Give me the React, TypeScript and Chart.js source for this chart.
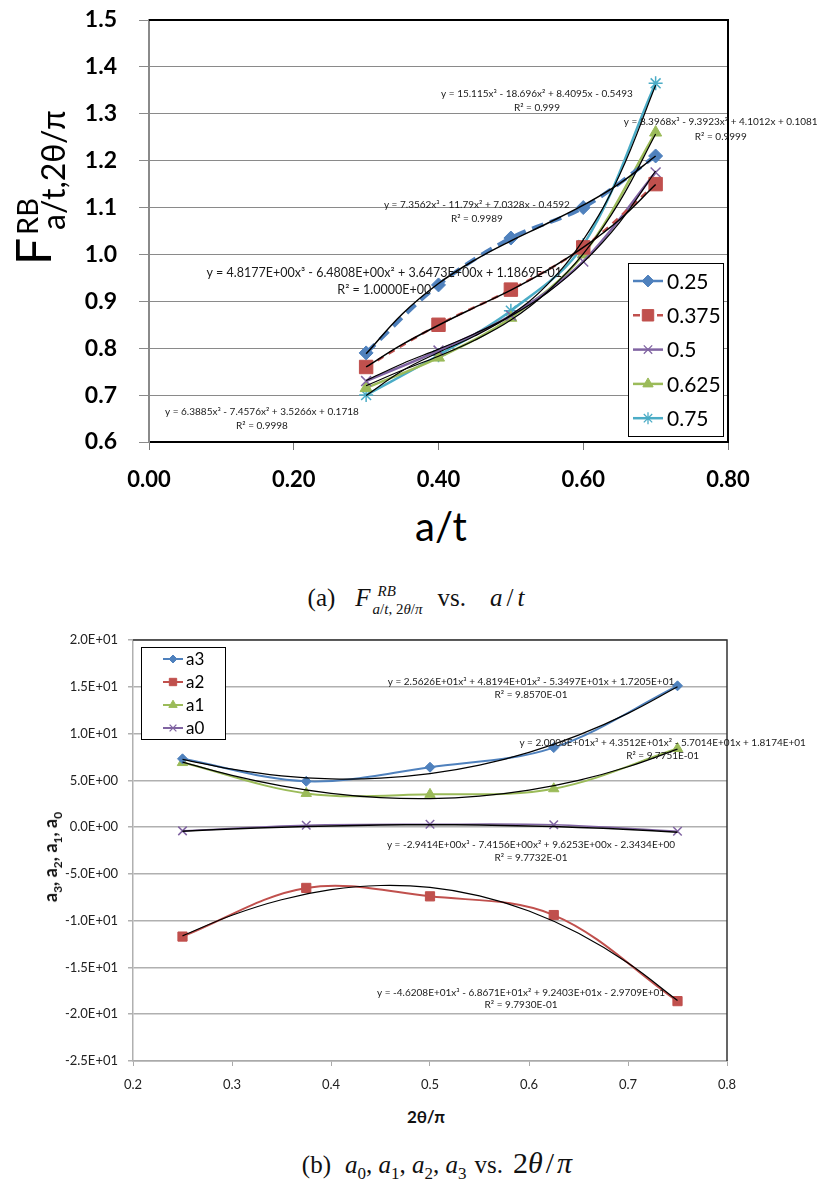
import React, { useEffect, useRef } from 'react';
import { Chart, registerables } from 'chart.js';

Chart.register(...registerables);

const FONT = 'Lato, "Open Sans", "DejaVu Sans", sans-serif';
const SERIF = '"Liberation Serif", "DejaVu Serif", serif';

// ---------------- chart (a) ----------------
const atValues = [0.3, 0.4, 0.5, 0.6, 0.7];
const seriesA025 = [0.79, 0.935, 1.035, 1.1, 1.21];
const seriesA0375 = [0.76, 0.85, 0.925, 1.015, 1.15];
const seriesA05 = [0.73, 0.795, 0.87, 0.985, 1.175];
const seriesA0625 = [0.715, 0.78, 0.865, 1.0, 1.26];
const seriesA075 = [0.7, 0.785, 0.88, 1.02, 1.365];

// trendline values
const trendAt = [0.3, 0.35, 0.4, 0.45, 0.5, 0.55, 0.6, 0.65, 0.7];
const trendA025 = [0.788, 0.873, 0.938, 0.988, 1.029, 1.066, 1.105, 1.151, 1.21];
const trendA0375 = [0.76, 0.808, 0.849, 0.887, 0.924, 0.966, 1.015, 1.074, 1.149];
const trendA05 = [0.731, 0.767, 0.798, 0.831, 0.869, 0.918, 0.983, 1.068, 1.178];
const trendA0625 = [0.72, 0.753, 0.783, 0.817, 0.86, 0.92, 1.001, 1.112, 1.257];
const trendA075 = [0.699, 0.752, 0.791, 0.826, 0.871, 0.935, 1.031, 1.169, 1.361];

const legendA = ['0.25', '0.375', '0.5', '0.625', '0.75'];

// ---------------- chart (b) ----------------
const thetaValues = [0.25, 0.375, 0.5, 0.625, 0.75];
const a3Values = [7.3, 4.9, 6.4, 8.5, 15.1];
const a2Values = [-11.7, -6.5, -7.4, -9.4, -18.6];
const a1Values = [6.9, 3.6, 3.5, 4.1, 8.4];
const a0Values = [-0.4, 0.2, 0.3, 0.25, -0.45];

const trendTheta = [0.25, 0.3, 0.35, 0.4, 0.45, 0.5, 0.55, 0.6, 0.65, 0.7, 0.75];
const trendA3 = [7.24, 6.19, 5.48, 5.16, 5.23, 5.71, 6.62, 7.99, 9.83, 12.16, 15.0];
const trendA2 = [-11.62, -9.42, -7.76, -6.69, -6.24, -6.45, -7.35, -8.97, -11.35, -14.53, -18.53];
const trendA1 = [6.95, 5.53, 4.41, 3.61, 3.15, 3.05, 3.31, 3.95, 4.99, 6.45, 8.33];
const trendA0 = [-0.45, -0.2, -0.01, 0.13, 0.22, 0.25, 0.22, 0.13, -0.03, -0.25, -0.54];

const legendB = ['a3', 'a2', 'a1', 'a0'];

const BLUE = '#4F81BD';
const RED = '#C0504D';
const PURPLE = '#8064A2';
const GREEN = '#9BBB59';
const CYAN = '#4BACC6';

const toXY = (xs: number[], ys: number[]) => xs.map((x, i) => ({ x, y: ys[i] }));

function fmtE(v: number) {
  if (Math.abs(v) < 1e-9) return '0.0E+00';
  const e = Math.floor(Math.log10(Math.abs(v)) + 1e-9);
  const m = v / Math.pow(10, e);
  return m.toFixed(1) + 'E' + (e < 0 ? '-' : '+') + String(Math.abs(e)).padStart(2, '0');
}

function drawMarker(ctx: CanvasRenderingContext2D, style: string, x: number, y: number, r: number, color: string, lw: number) {
  ctx.save();
  ctx.fillStyle = color;
  ctx.strokeStyle = color;
  ctx.lineWidth = lw;
  ctx.setLineDash([]);
  ctx.beginPath();
  const d = r * Math.SQRT1_2;
  if (style === 'rectRot') {
    ctx.moveTo(x, y - r); ctx.lineTo(x + r, y); ctx.lineTo(x, y + r); ctx.lineTo(x - r, y); ctx.closePath();
    ctx.fill(); ctx.stroke();
  } else if (style === 'rect') {
    ctx.rect(x - d, y - d, 2 * d, 2 * d); ctx.fill(); ctx.stroke();
  } else if (style === 'triangle') {
    ctx.moveTo(x, y - r); ctx.lineTo(x + r * 0.866, y + r * 0.5); ctx.lineTo(x - r * 0.866, y + r * 0.5); ctx.closePath();
    ctx.fill(); ctx.stroke();
  } else if (style === 'crossRot') {
    ctx.moveTo(x - d, y - d); ctx.lineTo(x + d, y + d); ctx.moveTo(x - d, y + d); ctx.lineTo(x + d, y - d); ctx.stroke();
  } else if (style === 'star') {
    ctx.moveTo(x - d, y - d); ctx.lineTo(x + d, y + d); ctx.moveTo(x - d, y + d); ctx.lineTo(x + d, y - d);
    ctx.moveTo(x - r, y); ctx.lineTo(x + r, y); ctx.moveTo(x, y - r); ctx.lineTo(x, y + r); ctx.stroke();
  }
  ctx.restore();
}

const framePlugin = {
  id: 'frame',
  afterDraw(chart: any, _a: any, o: any) {
    const { ctx, chartArea: a } = chart;
    ctx.save();
    ctx.strokeStyle = o.color;
    ctx.lineWidth = o.width;
    ctx.beginPath();
    ctx.moveTo(a.left, a.top);
    ctx.lineTo(a.right, a.top);
    ctx.lineTo(a.right, a.bottom);
    ctx.stroke();
    ctx.restore();
  },
};

const eqPlugin = {
  id: 'eqLabels',
  afterDraw(chart: any, _a: any, o: any) {
    const { ctx } = chart;
    const xs = chart.scales.x;
    const ys = chart.scales.y;
    ctx.save();
    ctx.fillStyle = '#1a1a1a';
    ctx.textAlign = 'center';
    ctx.textBaseline = 'middle';
    (o.items || []).forEach((it: any) => {
      ctx.font = `${it.size}px ${FONT}`;
      const px = xs.getPixelForValue(it.x);
      const py = ys.getPixelForValue(it.y);
      it.lines.forEach((t: string, i: number) => ctx.fillText(t, px, py + i * it.gap));
    });
    ctx.restore();
  },
};

const legendPlugin = {
  id: 'boxLegend',
  afterDraw(chart: any, _a: any, o: any) {
    const { ctx } = chart;
    ctx.save();
    ctx.fillStyle = '#fff';
    ctx.fillRect(o.left, o.top, o.width, o.height);
    ctx.strokeStyle = '#000';
    ctx.lineWidth = 1;
    ctx.strokeRect(o.left + 0.5, o.top + 0.5, o.width, o.height);
    const items = chart.data.datasets.filter((d: any) => d.inLegend);
    items.forEach((d: any, i: number) => {
      const y = o.top + o.firstRow + i * o.rowGap;
      const x0 = o.left + o.lineStart;
      ctx.strokeStyle = d.borderColor;
      ctx.lineWidth = o.lineWidth;
      ctx.setLineDash(d.legendDash || []);
      ctx.beginPath();
      ctx.moveTo(x0, y);
      ctx.lineTo(x0 + o.lineLen, y);
      ctx.stroke();
      ctx.setLineDash([]);
      drawMarker(ctx, d.pointStyle, x0 + o.lineLen / 2, y, d.pointRadius * o.markerScale, d.borderColor, d.pointStyle === 'crossRot' || d.pointStyle === 'star' ? 1.3 : 1);
      ctx.fillStyle = '#000';
      ctx.font = `${o.fontSize}px ${FONT}`;
      ctx.textAlign = 'left';
      ctx.textBaseline = 'middle';
      ctx.fillText(d.label, o.left + o.textX, y + 1);
    });
    ctx.restore();
  },
};

function seriesDs(label: string, xs: number[], ys: number[], color: string, style: string, radius: number, width: number, dash: number[], legendDash: number[]) {
  return {
    label,
    data: toXY(xs, ys),
    showLine: true,
    borderColor: color,
    backgroundColor: color,
    borderWidth: width,
    borderDash: dash,
    legendDash,
    tension: 0.35,
    pointStyle: style,
    pointRadius: radius,
    pointBackgroundColor: color,
    pointBorderColor: color,
    pointBorderWidth: style === 'crossRot' || style === 'star' ? 1.5 : 1,
    inLegend: true,
    order: 1,
  };
}

function trendDs(xs: number[], ys: number[], width: number) {
  return {
    label: 'trend',
    data: toXY(xs, ys),
    showLine: true,
    borderColor: '#000',
    backgroundColor: '#000',
    borderWidth: width,
    pointRadius: 0,
    tension: 0.4,
    inLegend: false,
    order: 0,
  };
}

export default function App() {
  const refA = useRef<HTMLCanvasElement>(null);
  const refB = useRef<HTMLCanvasElement>(null);

  useEffect(() => {
    Chart.defaults.font.family = FONT;
    const chartA = new Chart(refA.current as HTMLCanvasElement, {
      type: 'scatter',
      data: {
        datasets: [
          trendDs(trendAt, trendA025, 1.5),
          trendDs(trendAt, trendA0375, 1.5),
          trendDs(trendAt, trendA05, 1.2),
          trendDs(trendAt, trendA0625, 1.2),
          trendDs(trendAt, trendA075, 1.2),
          seriesDs(legendA[0], atValues, seriesA025, BLUE, 'rectRot', 7, 4, [12, 7], []),
          seriesDs(legendA[1], atValues, seriesA0375, RED, 'rect', 9.5, 2.5, [7, 6], [7, 5]),
          seriesDs(legendA[2], atValues, seriesA05, PURPLE, 'crossRot', 7, 2.5, [], []),
          seriesDs(legendA[3], atValues, seriesA0625, GREEN, 'triangle', 7, 2.5, [], []),
          seriesDs(legendA[4], atValues, seriesA075, CYAN, 'star', 7, 2.5, [], []),
        ] as any,
      },
      options: {
        responsive: false,
        animation: false,
        devicePixelRatio: 1,
        layout: { padding: { left: 0, right: 101, top: 20, bottom: 0 } },
        plugins: {
          legend: { display: false },
          tooltip: { enabled: false },
          frame: { color: '#000', width: 2 },
          eqLabels: {
            items: [
              { x: 0.536, y: 1.343, size: 10, gap: 14, lines: ['y = 15.115x³ - 18.696x² + 8.4095x - 0.5493', 'R² = 0.999'] },
              { x: 0.79, y: 1.282, size: 10, gap: 15, lines: ['y = 8.3968x³ - 9.3923x² + 4.1012x + 0.1081', 'R² = 0.9999'] },
              { x: 0.453, y: 1.106, size: 10, gap: 14, lines: ['y = 7.3562x³ - 11.79x² + 7.0328x - 0.4592', 'R² = 0.9989'] },
              { x: 0.325, y: 0.96, size: 12.5, gap: 17, lines: ['y = 4.8177E+00x³ - 6.4808E+00x² + 3.6473E+00x + 1.1869E-01', 'R² = 1.0000E+00'] },
              { x: 0.156, y: 0.664, size: 10, gap: 14, lines: ['y = 6.3885x³ - 7.4576x² + 3.5266x + 0.1718', 'R² = 0.9998'] },
            ],
          },
          boxLegend: {
            left: 628, top: 263, width: 95, height: 173, firstRow: 18, rowGap: 34.3,
            lineStart: 5, lineLen: 30, textX: 39, fontSize: 21, lineWidth: 2.5, markerScale: 0.85,
          },
        } as any,
        scales: {
          x: {
            type: 'linear',
            min: 0,
            max: 0.8,
            ticks: { stepSize: 0.2, callback: (v: any) => Number(v).toFixed(2), font: { size: 22, weight: 'bold' }, color: '#000', padding: 17 },
            grid: { drawOnChartArea: false, drawTicks: true, tickLength: 8, color: '#777', lineWidth: 1 },
            border: { color: '#000', width: 2 },
            afterFit: (s: any) => { s.height = 58; s.paddingLeft = 0; s.paddingRight = 0; },
          },
          y: {
            type: 'linear',
            min: 0.6,
            max: 1.5,
            ticks: { stepSize: 0.1, callback: (v: any) => Number(v).toFixed(1), font: { size: 23, weight: 'bold' }, color: '#000', padding: 22 },
            grid: { color: '#8a8a8a', lineWidth: 1, tickLength: 10 },
            border: { color: '#8a8a8a', width: 2 },
            afterFit: (s: any) => { s.width = 149; s.paddingTop = 0; s.paddingBottom = 0; },
          },
        } as any,
      },
      plugins: [framePlugin, eqPlugin, legendPlugin] as any,
    });

    const chartB = new Chart(refB.current as HTMLCanvasElement, {
      type: 'scatter',
      data: {
        datasets: [
          trendDs(trendTheta, trendA3, 1.2),
          trendDs(trendTheta, trendA2, 1.2),
          trendDs(trendTheta, trendA1, 1.2),
          trendDs(trendTheta, trendA0, 1.5),
          seriesDs(legendB[0], thetaValues, a3Values, BLUE, 'rectRot', 5, 2, [], []),
          seriesDs(legendB[1], thetaValues, a2Values, RED, 'rect', 6.5, 2, [], []),
          seriesDs(legendB[2], thetaValues, a1Values, GREEN, 'triangle', 6, 2, [], []),
          seriesDs(legendB[3], thetaValues, a0Values, PURPLE, 'crossRot', 6, 1.5, [], []),
        ] as any,
      },
      options: {
        responsive: false,
        animation: false,
        devicePixelRatio: 1,
        layout: { padding: { left: 0, right: 102, top: 20, bottom: 0 } },
        plugins: {
          legend: { display: false },
          tooltip: { enabled: false },
          frame: { color: '#333', width: 1.5 },
          eqLabels: {
            items: [
              { x: 0.602, y: 15.53, size: 10, gap: 12.5, lines: ['y = 2.5626E+01x³ + 4.8194E+01x² - 5.3497E+01x + 1.7205E+01', 'R² = 9.8570E-01'] },
              { x: 0.735, y: 9.04, size: 10, gap: 13, lines: ['y = 2.0006E+01x³ + 4.3512E+01x² - 5.7014E+01x + 1.8174E+01', 'R² = 9.7751E-01'] },
              { x: 0.602, y: -1.91, size: 10, gap: 12.5, lines: ['y = -2.9414E+00x³ - 7.4156E+00x² + 9.6253E+00x - 2.3434E+00', 'R² = 9.7732E-01'] },
              { x: 0.592, y: -17.66, size: 10, gap: 12.5, lines: ['y = -4.6208E+01x³ - 6.8671E+01x² + 9.2403E+01x - 2.9709E+01', 'R² = 9.7930E-01'] },
            ],
          },
          boxLegend: {
            left: 141, top: 27, width: 84, height: 92, firstRow: 12, rowGap: 23,
            lineStart: 22, lineLen: 20, textX: 45, fontSize: 17, lineWidth: 2, markerScale: 0.8,
          },
        } as any,
        scales: {
          x: {
            type: 'linear',
            min: 0.2,
            max: 0.8,
            ticks: { stepSize: 0.1, callback: (v: any) => Number(v).toFixed(1), font: { size: 13 }, color: '#222', padding: 11 },
            grid: { drawOnChartArea: false, drawTicks: true, tickLength: 5, color: '#aaa', lineWidth: 1 },
            border: { color: '#aaa', width: 1.5 },
            afterFit: (s: any) => { s.height = 39; s.paddingLeft = 0; s.paddingRight = 0; },
          },
          y: {
            type: 'linear',
            min: -25,
            max: 20,
            ticks: { stepSize: 5, callback: (v: any) => fmtE(Number(v)), font: { size: 13 }, color: '#222', padding: 10 },
            grid: { color: '#b0b0b0', lineWidth: 1.5, tickLength: 5 },
            border: { color: '#b0b0b0', width: 1.5 },
            afterFit: (s: any) => { s.width = 133; s.paddingTop = 0; s.paddingBottom = 0; },
          },
        } as any,
      },
      plugins: [framePlugin, eqPlugin, legendPlugin] as any,
    });

    return () => {
      chartA.destroy();
      chartB.destroy();
    };
  }, []);

  const it = { fontStyle: 'italic' as const };

  return (
    <div style={{ position: 'absolute', left: 0, top: 0, width: 829, height: 1194, background: '#fff', overflow: 'hidden' }}>
      <canvas ref={refA} width={829} height={500} style={{ position: 'absolute', left: 0, top: 0, width: 829, height: 500 }} />
      <canvas ref={refB} width={829} height={480} style={{ position: 'absolute', left: 0, top: 620, width: 829, height: 480 }} />

      {/* y-axis title of chart (a) */}
      <div style={{ position: 'absolute', left: 52, top: 265, width: 0, height: 0, transform: 'rotate(-90deg)', transformOrigin: '0 0', fontFamily: FONT, color: '#000', whiteSpace: 'nowrap' }}>
        <span style={{ position: 'absolute', left: 0, top: -42.6, fontSize: 48, lineHeight: 1 }}>F</span>
        <span style={{ position: 'absolute', left: 30, top: -39.7, fontSize: 29, lineHeight: 1 }}>RB</span>
        <span style={{ position: 'absolute', left: 35, top: -15.4, fontSize: 32, lineHeight: 1 }}>a/t,2θ/π</span>
      </div>

      {/* x-axis title of chart (a) */}
      <div style={{ position: 'absolute', left: 441, top: 506, transform: 'translateX(-50%)', fontFamily: FONT, fontSize: 40, lineHeight: 1, color: '#000', whiteSpace: 'nowrap' }}>a/t</div>

      {/* caption (a) */}
      <div style={{ position: 'absolute', left: 416, top: 582, transform: 'translateX(-50%)', fontFamily: SERIF, fontSize: 25, lineHeight: '30px', color: '#111', whiteSpace: 'nowrap' }}>
        <span>(a)</span>
        <span style={{ ...it, marginLeft: 20 }}>F</span>
        <span style={{ display: 'inline-block', verticalAlign: '-8px', fontSize: 15, lineHeight: '18px', marginLeft: 2 }}>
          <span style={{ display: 'block', ...it, paddingLeft: 5 }}>RB</span>
          <span style={{ display: 'block' }}><span style={it}>a</span>/<span style={it}>t</span>, 2<span style={it}>θ</span>/<span style={it}>π</span></span>
        </span>
        <span style={{ marginLeft: 15 }}>vs.</span>
        <span style={{ ...it, marginLeft: 24 }}>a</span>
        <span style={{ margin: '0 4px' }}>/</span>
        <span style={it}>t</span>
      </div>

      {/* y-axis title of chart (b) */}
      <div style={{ position: 'absolute', left: 50, top: 857, transform: 'translate(-50%, -50%) rotate(-90deg)', fontFamily: FONT, fontWeight: 'bold', fontSize: 18, lineHeight: 1, color: '#111', whiteSpace: 'nowrap' }}>
        a<sub style={{ fontSize: 12, lineHeight: 0 }}>3</sub>, a<sub style={{ fontSize: 12, lineHeight: 0 }}>2</sub>, a<sub style={{ fontSize: 12, lineHeight: 0 }}>1</sub>, a<sub style={{ fontSize: 12, lineHeight: 0 }}>0</sub>
      </div>

      {/* x-axis title of chart (b) */}
      <div style={{ position: 'absolute', left: 426, top: 1108, transform: 'translateX(-50%)', fontFamily: FONT, fontWeight: 'bold', fontSize: 17, lineHeight: 1, color: '#111', whiteSpace: 'nowrap' }}>2θ/π</div>

      {/* caption (b) */}
      <div style={{ position: 'absolute', left: 437, top: 1148, transform: 'translateX(-50%)', fontFamily: SERIF, fontSize: 25, lineHeight: '30px', color: '#111', whiteSpace: 'nowrap' }}>
        <span>(b)</span>
        <span style={{ marginLeft: 14 }}>
          <span style={it}>a</span><sub style={{ fontSize: 17, verticalAlign: '-6px', lineHeight: 0 }}>0</sub>,&nbsp;
          <span style={it}>a</span><sub style={{ fontSize: 17, verticalAlign: '-6px', lineHeight: 0 }}>1</sub>,&nbsp;
          <span style={it}>a</span><sub style={{ fontSize: 17, verticalAlign: '-6px', lineHeight: 0 }}>2</sub>,&nbsp;
          <span style={it}>a</span><sub style={{ fontSize: 17, verticalAlign: '-6px', lineHeight: 0 }}>3</sub>
        </span>
        <span style={{ marginLeft: 8 }}>vs.</span>
        <span style={{ marginLeft: 10, fontSize: 30 }}>2<span style={it}>θ</span><span style={{ margin: '0 3px' }}>/</span><span style={it}>π</span></span>
      </div>
    </div>
  );
}
